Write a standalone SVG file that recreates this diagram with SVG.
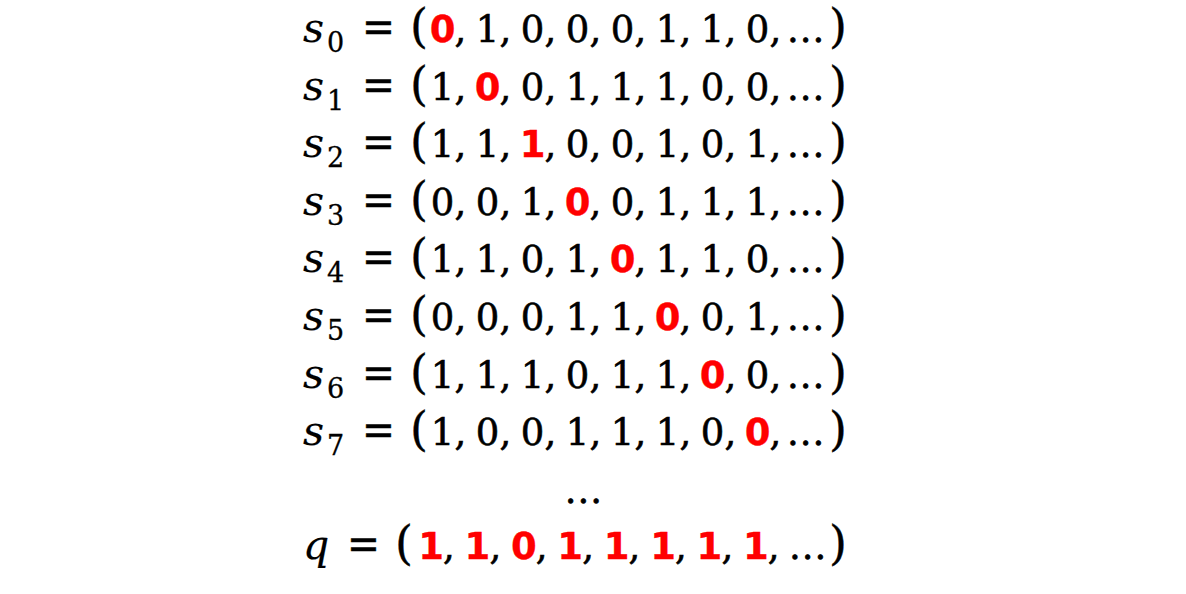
<svg xmlns="http://www.w3.org/2000/svg" width="1186" height="594" viewBox="0 0 1186 594">
<style>
text{font-family:"DejaVu Serif","Liberation Serif",serif;font-size:37px;fill:#000;stroke:#000;stroke-width:0.6px}
.v{font-style:italic;font-size:41px;stroke-width:0.2px}
.sub{font-size:27px;stroke-width:0.3px}
.d{text-anchor:middle}
.p{font-size:46px;stroke-width:0.4px}
.eq{font-size:44px;stroke-width:0.5px}
.r{font-family:"DejaVu Sans","Liberation Sans",sans-serif;font-weight:bold;font-size:37px;fill:#ff0000;stroke:#ff0000;stroke-width:0.3px;text-anchor:middle}
.e{letter-spacing:1px}
</style>
<rect width="1186" height="594" fill="#ffffff"/>
<g id="row-s0" transform="translate(0,42)">
<text class="v" x="303" y="0">s</text><text class="sub" x="327" y="10">0</text>
<text class="eq" x="362" y="0" textLength="33" lengthAdjust="spacingAndGlyphs">=</text><text class="p" x="410" y="0">(</text>
<text class="r" x="442.5" y="0">0</text><text x="454.5" y="0">,</text>
<text class="d" x="487.5" y="0">1</text><text x="499.5" y="0">,</text>
<text class="d" x="532.5" y="0">0</text><text x="544.5" y="0">,</text>
<text class="d" x="577.5" y="0">0</text><text x="589.5" y="0">,</text>
<text class="d" x="622.5" y="0">0</text><text x="634.5" y="0">,</text>
<text class="d" x="667.5" y="0">1</text><text x="679.5" y="0">,</text>
<text class="d" x="712.5" y="0">1</text><text x="724.5" y="0">,</text>
<text class="d" x="757.5" y="0">0</text><text x="769.5" y="0">,</text>
<text class="e" x="787" y="0">...</text><text class="p" x="829" y="0">)</text>
</g>
<g id="row-s1" transform="translate(0,99.6)">
<text class="v" x="303" y="0">s</text><text class="sub" x="327" y="10">1</text>
<text class="eq" x="362" y="0" textLength="33" lengthAdjust="spacingAndGlyphs">=</text><text class="p" x="410" y="0">(</text>
<text class="d" x="442.5" y="0">1</text><text x="454.5" y="0">,</text>
<text class="r" x="487.5" y="0">0</text><text x="499.5" y="0">,</text>
<text class="d" x="532.5" y="0">0</text><text x="544.5" y="0">,</text>
<text class="d" x="577.5" y="0">1</text><text x="589.5" y="0">,</text>
<text class="d" x="622.5" y="0">1</text><text x="634.5" y="0">,</text>
<text class="d" x="667.5" y="0">1</text><text x="679.5" y="0">,</text>
<text class="d" x="712.5" y="0">0</text><text x="724.5" y="0">,</text>
<text class="d" x="757.5" y="0">0</text><text x="769.5" y="0">,</text>
<text class="e" x="787" y="0">...</text><text class="p" x="829" y="0">)</text>
</g>
<g id="row-s2" transform="translate(0,157.2)">
<text class="v" x="303" y="0">s</text><text class="sub" x="327" y="10">2</text>
<text class="eq" x="362" y="0" textLength="33" lengthAdjust="spacingAndGlyphs">=</text><text class="p" x="410" y="0">(</text>
<text class="d" x="442.5" y="0">1</text><text x="454.5" y="0">,</text>
<text class="d" x="487.5" y="0">1</text><text x="499.5" y="0">,</text>
<text class="r" x="532.5" y="0">1</text><text x="544.5" y="0">,</text>
<text class="d" x="577.5" y="0">0</text><text x="589.5" y="0">,</text>
<text class="d" x="622.5" y="0">0</text><text x="634.5" y="0">,</text>
<text class="d" x="667.5" y="0">1</text><text x="679.5" y="0">,</text>
<text class="d" x="712.5" y="0">0</text><text x="724.5" y="0">,</text>
<text class="d" x="757.5" y="0">1</text><text x="769.5" y="0">,</text>
<text class="e" x="787" y="0">...</text><text class="p" x="829" y="0">)</text>
</g>
<g id="row-s3" transform="translate(0,214.8)">
<text class="v" x="303" y="0">s</text><text class="sub" x="327" y="10">3</text>
<text class="eq" x="362" y="0" textLength="33" lengthAdjust="spacingAndGlyphs">=</text><text class="p" x="410" y="0">(</text>
<text class="d" x="442.5" y="0">0</text><text x="454.5" y="0">,</text>
<text class="d" x="487.5" y="0">0</text><text x="499.5" y="0">,</text>
<text class="d" x="532.5" y="0">1</text><text x="544.5" y="0">,</text>
<text class="r" x="577.5" y="0">0</text><text x="589.5" y="0">,</text>
<text class="d" x="622.5" y="0">0</text><text x="634.5" y="0">,</text>
<text class="d" x="667.5" y="0">1</text><text x="679.5" y="0">,</text>
<text class="d" x="712.5" y="0">1</text><text x="724.5" y="0">,</text>
<text class="d" x="757.5" y="0">1</text><text x="769.5" y="0">,</text>
<text class="e" x="787" y="0">...</text><text class="p" x="829" y="0">)</text>
</g>
<g id="row-s4" transform="translate(0,272.4)">
<text class="v" x="303" y="0">s</text><text class="sub" x="327" y="10">4</text>
<text class="eq" x="362" y="0" textLength="33" lengthAdjust="spacingAndGlyphs">=</text><text class="p" x="410" y="0">(</text>
<text class="d" x="442.5" y="0">1</text><text x="454.5" y="0">,</text>
<text class="d" x="487.5" y="0">1</text><text x="499.5" y="0">,</text>
<text class="d" x="532.5" y="0">0</text><text x="544.5" y="0">,</text>
<text class="d" x="577.5" y="0">1</text><text x="589.5" y="0">,</text>
<text class="r" x="622.5" y="0">0</text><text x="634.5" y="0">,</text>
<text class="d" x="667.5" y="0">1</text><text x="679.5" y="0">,</text>
<text class="d" x="712.5" y="0">1</text><text x="724.5" y="0">,</text>
<text class="d" x="757.5" y="0">0</text><text x="769.5" y="0">,</text>
<text class="e" x="787" y="0">...</text><text class="p" x="829" y="0">)</text>
</g>
<g id="row-s5" transform="translate(0,330)">
<text class="v" x="303" y="0">s</text><text class="sub" x="327" y="10">5</text>
<text class="eq" x="362" y="0" textLength="33" lengthAdjust="spacingAndGlyphs">=</text><text class="p" x="410" y="0">(</text>
<text class="d" x="442.5" y="0">0</text><text x="454.5" y="0">,</text>
<text class="d" x="487.5" y="0">0</text><text x="499.5" y="0">,</text>
<text class="d" x="532.5" y="0">0</text><text x="544.5" y="0">,</text>
<text class="d" x="577.5" y="0">1</text><text x="589.5" y="0">,</text>
<text class="d" x="622.5" y="0">1</text><text x="634.5" y="0">,</text>
<text class="r" x="667.5" y="0">0</text><text x="679.5" y="0">,</text>
<text class="d" x="712.5" y="0">0</text><text x="724.5" y="0">,</text>
<text class="d" x="757.5" y="0">1</text><text x="769.5" y="0">,</text>
<text class="e" x="787" y="0">...</text><text class="p" x="829" y="0">)</text>
</g>
<g id="row-s6" transform="translate(0,387.6)">
<text class="v" x="303" y="0">s</text><text class="sub" x="327" y="10">6</text>
<text class="eq" x="362" y="0" textLength="33" lengthAdjust="spacingAndGlyphs">=</text><text class="p" x="410" y="0">(</text>
<text class="d" x="442.5" y="0">1</text><text x="454.5" y="0">,</text>
<text class="d" x="487.5" y="0">1</text><text x="499.5" y="0">,</text>
<text class="d" x="532.5" y="0">1</text><text x="544.5" y="0">,</text>
<text class="d" x="577.5" y="0">0</text><text x="589.5" y="0">,</text>
<text class="d" x="622.5" y="0">1</text><text x="634.5" y="0">,</text>
<text class="d" x="667.5" y="0">1</text><text x="679.5" y="0">,</text>
<text class="r" x="712.5" y="0">0</text><text x="724.5" y="0">,</text>
<text class="d" x="757.5" y="0">0</text><text x="769.5" y="0">,</text>
<text class="e" x="787" y="0">...</text><text class="p" x="829" y="0">)</text>
</g>
<g id="row-s7" transform="translate(0,445.2)">
<text class="v" x="303" y="0">s</text><text class="sub" x="327" y="10">7</text>
<text class="eq" x="362" y="0" textLength="33" lengthAdjust="spacingAndGlyphs">=</text><text class="p" x="410" y="0">(</text>
<text class="d" x="442.5" y="0">1</text><text x="454.5" y="0">,</text>
<text class="d" x="487.5" y="0">0</text><text x="499.5" y="0">,</text>
<text class="d" x="532.5" y="0">0</text><text x="544.5" y="0">,</text>
<text class="d" x="577.5" y="0">1</text><text x="589.5" y="0">,</text>
<text class="d" x="622.5" y="0">1</text><text x="634.5" y="0">,</text>
<text class="d" x="667.5" y="0">1</text><text x="679.5" y="0">,</text>
<text class="d" x="712.5" y="0">0</text><text x="724.5" y="0">,</text>
<text class="r" x="757.5" y="0">0</text><text x="769.5" y="0">,</text>
<text class="e" x="787" y="0">...</text><text class="p" x="829" y="0">)</text>
</g>
<g id="row-dots">
<text class="d e" x="584" y="503">...</text>
</g>
<g id="row-q" transform="translate(0,559)">
<text class="v" x="303" y="0">q</text>
<text class="eq" x="347" y="0" textLength="33" lengthAdjust="spacingAndGlyphs">=</text><text class="p" x="395" y="0">(</text>
<text class="r" x="431" y="0">1</text><text x="443" y="0">,</text>
<text class="r" x="477.4" y="0">1</text><text x="489.4" y="0">,</text>
<text class="r" x="523.8" y="0">0</text><text x="535.8" y="0">,</text>
<text class="r" x="570.2" y="0">1</text><text x="582.2" y="0">,</text>
<text class="r" x="616.6" y="0">1</text><text x="628.6" y="0">,</text>
<text class="r" x="663" y="0">1</text><text x="675" y="0">,</text>
<text class="r" x="709.4" y="0">1</text><text x="721.4" y="0">,</text>
<text class="r" x="755.8" y="0">1</text><text x="767.8" y="0">,</text>
<text class="e" x="789" y="0">...</text><text class="p" x="829" y="0">)</text>
</g>
</svg>
